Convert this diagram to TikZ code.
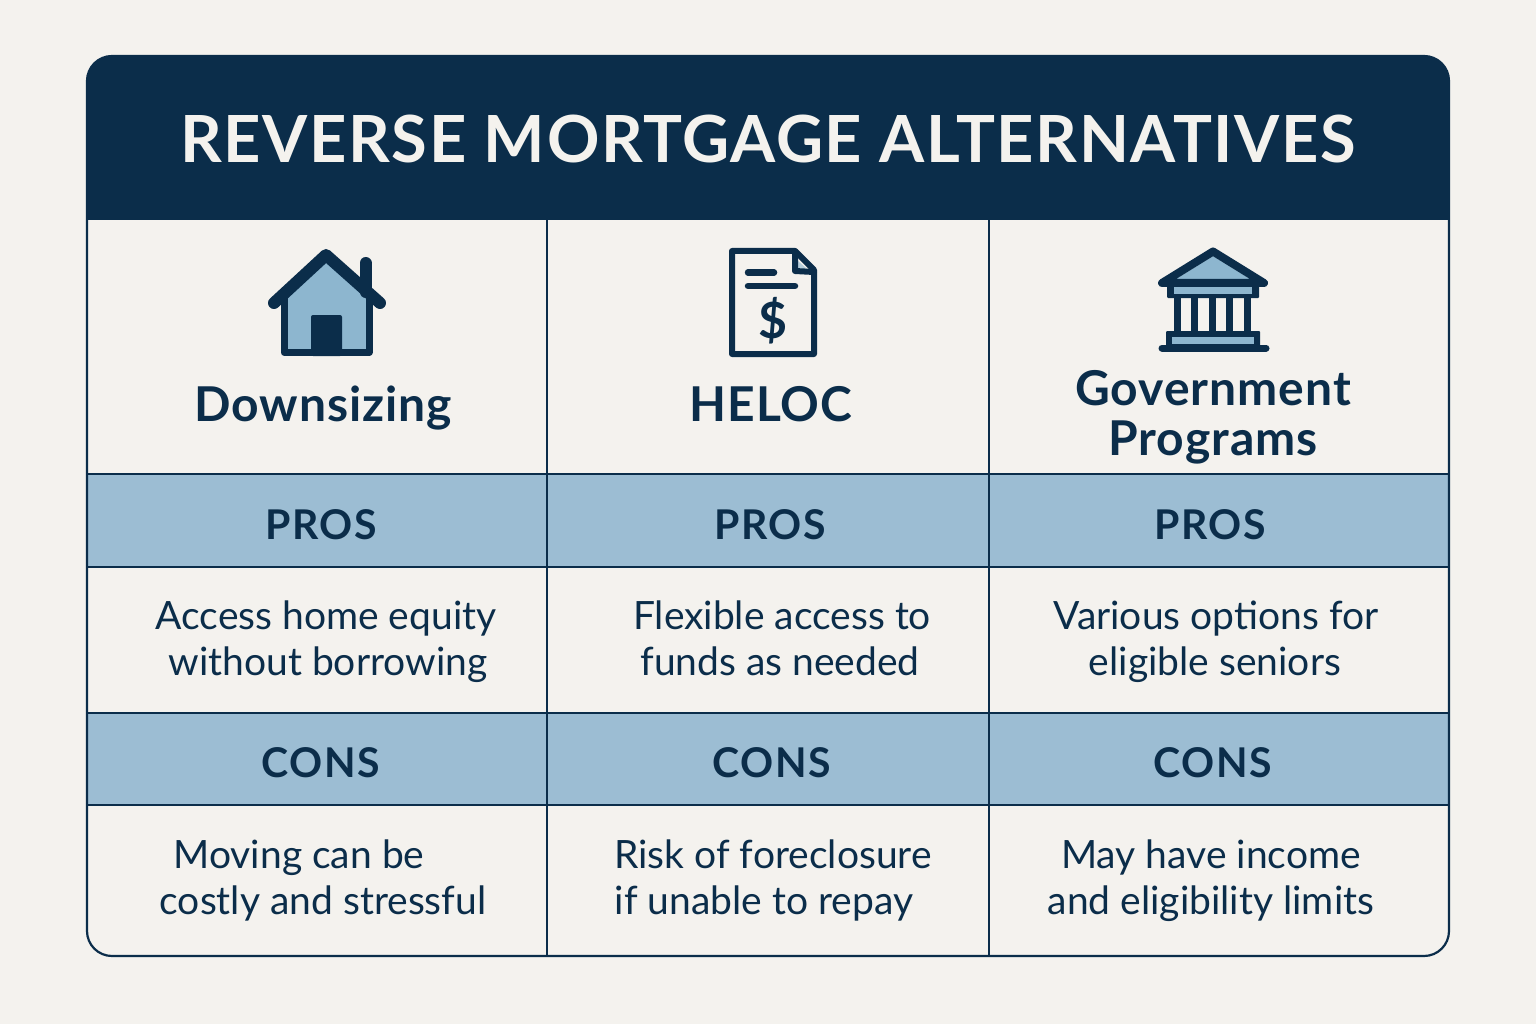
\documentclass[tikz,border=0pt]{standalone}
\usepackage{fontspec}
\setmainfont{Lato}
\definecolor{navy}{HTML}{0B2D4A}
\definecolor{band}{HTML}{9CBDD3}
\definecolor{iconfill}{HTML}{8DB6CF}
\definecolor{paper}{HTML}{F4F2EE}
\newcommand{\sz}[1]{\fontsize{#1}{#1}\selectfont}
\newfontfamily\titlefont{Lato}[LetterSpace=2.5]
\newfontfamily\headfont{Lato}[LetterSpace=2]
\newfontfamily\bandfont{Lato}[LetterSpace=4]
\tikzset{
  rule/.style={draw=navy,line width=2.2pt},
  ico/.style={draw=navy,line join=round,line cap=round},
  title/.style={text=paper,font=\titlefont\sz{65}\bfseries,anchor=base},
  head/.style={text=navy,font=\headfont\sz{48}\bfseries,anchor=base},
  bandtext/.style={text=navy,font=\bandfont\sz{41}\bfseries,anchor=base},
  body/.style={text=navy,font=\sz{39},anchor=base},
}
\begin{document}
\begin{tikzpicture}[x=1pt,y=-1pt]
\useasboundingbox (0,0) rectangle (1536,1024);
\fill[paper] (0,0) rectangle (1536,1024);
% table
\begin{scope}
\clip[rounded corners=25pt] (87,56) rectangle (1449,956);
\fill[navy] (87,56) rectangle (1449,220);
\fill[band] (87,475) rectangle (1449,567);
\fill[band] (87,713) rectangle (1449,805);
\end{scope}
\draw[rule] (87,474) -- (1449,474);
\draw[rule] (87,567) -- (1449,567);
\draw[rule] (87,713) -- (1449,713);
\draw[rule] (87,805) -- (1449,805);
\draw[rule] (547,220) -- (547,956);
\draw[rule] (989,220) -- (989,956);
\draw[rule,rounded corners=25pt] (87,56) rectangle (1449,956);
\node[title] (t) at (768,163) {REVERSE MORTGAGE ALTERNATIVES};
% house
\fill[iconfill] (286,296) -- (326,261) -- (366,296) -- (366,352) -- (286,352) -- cycle;
\draw[ico,line width=7pt,line cap=butt] (284,298) -- (284,352.500) -- (369,352.500) -- (369,298);
\draw[ico,line width=12pt] (365.500,263) -- (365.500,292);
\draw[ico,line width=12pt] (274,303) -- (326,255) -- (380,303);
\fill[navy,rounded corners=2pt] (311,315) rectangle (342,356) ;
% document
\fill[iconfill!60!paper] (798,261) -- (798,269) -- (807,269) -- cycle;
\draw[ico,line width=6pt] (735,251) -- (795,251) -- (814,270) -- (814,354) -- (732,354) -- (732,251) -- cycle;
\draw[ico,line width=6pt] (795,251) -- (795,271) -- (814,272);
\draw[ico,line width=6.500pt] (748,272.500) -- (774,272.500);
\draw[ico,line width=6.500pt] (748,286) -- (795,286);
\node[text=navy,font=\sz{50}\bfseries,anchor=base] (dollar) at (773,338) {\$};
% bank
\fill[iconfill] (1176,279) -- (1213,256) -- (1250,279) -- cycle;
\draw[ico,line width=8pt] (1162,283) -- (1213,251.500) -- (1264,283) -- cycle;
\fill[navy,rounded corners=1pt] (1167,283) rectangle (1259,298);
\fill[iconfill] (1174,287.500) rectangle (1252,294);
\foreach \cx in {1177,1194,1212,1229,1247}{\fill[navy] (\cx-3.500,297) rectangle (\cx+3.500,333);}
\fill[navy,rounded corners=1pt] (1166,331) rectangle (1260,346);
\fill[iconfill] (1172,337) rectangle (1254,344);
\draw[ico,line width=7pt] (1162,348) -- (1266,348);
% headings
\node[head] (h1) at (323,421) {Downsizing};
\node[head] (h2) at (771,421) {HELOC};
\node[head] (h3) at (1213,405) {Government};
\node[head] (h4) at (1213,455) {Programs};
\foreach \n/\x/\y/\s in {p1/321/539/PROS,p2/770/539/PROS,p3/1210/539/PROS,c1/321/777/CONS,c2/772/777/CONS,c3/1213/777/CONS}{
  \node[bandtext] (\n) at (\x,\y) {\s};}
\node[body] (b1a) at (326,629) {Access home equity};
\node[body] (b1b) at (328,675) {without borrowing};
\node[body] (b2a) at (782,629) {Flexible access to};
\node[body] (b2b) at (780,675) {funds as needed};
\node[body] (b3a) at (1216,629) {Various options for};
\node[body] (b3b) at (1215,675) {eligible seniors};
\node[body] (b4a) at (299,868) {Moving can be};
\node[body] (b4b) at (323,914) {costly and stressful};
\node[body] (b5a) at (773,868) {Risk of foreclosure};
\node[body] (b5b) at (764,914) {if unable to repay};
\node[body] (b6a) at (1211,868) {May have income};
\node[body] (b6b) at (1211,914) {and eligibility limits};
\end{tikzpicture}
\end{document}
